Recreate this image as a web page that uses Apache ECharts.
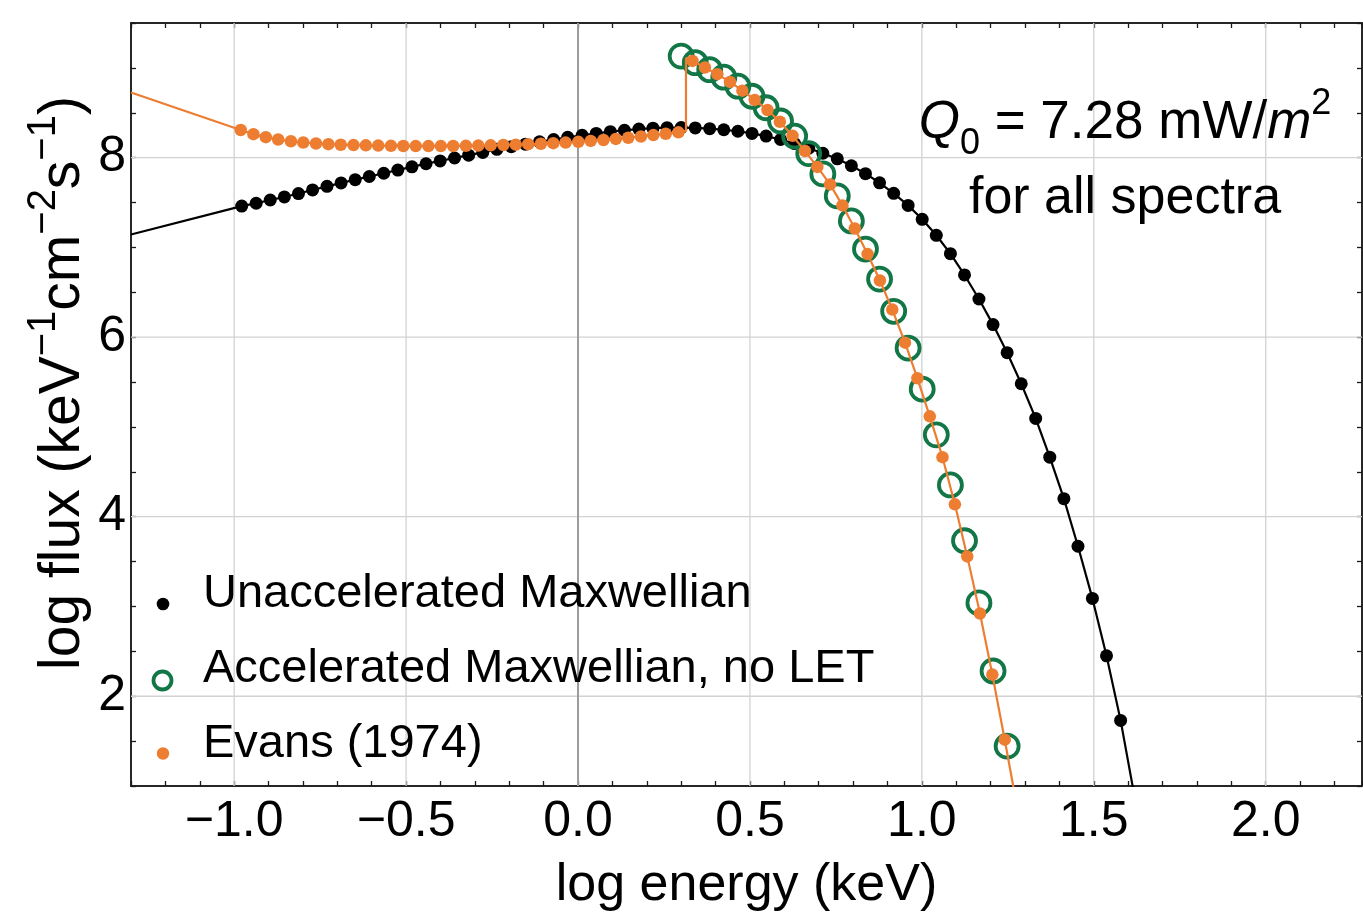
<!DOCTYPE html>
<html>
<head>
<meta charset="utf-8">
<script src="https://cdn.jsdelivr.net/npm/echarts@6/dist/echarts.min.js"></script>
<style>
html,body{margin:0;padding:0;background:#ffffff;}
#chart{width:1363px;height:919px;}
</style>
</head>
<body>
<div id="chart"></div>
<script>
// ---------------- data ----------------
// Unaccelerated Maxwellian (black dots)
const blackX = [-0.978,-0.936,-0.895,-0.854,-0.813,-0.772,-0.730,-0.689,-0.648,-0.607,
  -0.565,-0.524,-0.483,-0.442,-0.401,-0.359,-0.318,-0.277,-0.236,-0.194,
  -0.153,-0.112,-0.071,-0.030,0.012,0.053,0.094,0.135,0.177,0.218,
  0.259,0.300,0.341,0.383,0.424,0.465,0.506,0.547,0.589,0.630,
  0.671,0.712,0.754,0.795,0.836,0.877,0.918,0.960,1.001,1.042,
  1.083,1.124,1.166,1.207,1.248,1.289,1.331,1.372,1.413,1.454,
  1.496,1.537,1.578];
const blackY = [7.460,7.492,7.528,7.562,7.600,7.640,7.680,7.718,7.755,7.790,
  7.826,7.862,7.898,7.932,7.964,7.996,8.028,8.058,8.093,8.122,
  8.150,8.177,8.202,8.226,8.249,8.270,8.289,8.305,8.318,8.328,
  8.334,8.335,8.331,8.323,8.311,8.294,8.270,8.240,8.202,8.157,
  8.105,8.049,7.987,7.910,7.822,7.720,7.603,7.468,7.313,7.135,
  6.930,6.693,6.425,6.140,5.827,5.481,5.095,4.663,4.201,3.671,
  3.090,2.450,1.731];
const blackLineStart = [-1.3, 7.144];
const blackLineEnd = [1.62, 0.85];

// Accelerated Maxwellian, no LET (green open circles)
const greenX = [0.300,0.341,0.383,0.424,0.465,0.506,0.547,0.589,0.630,0.671,
  0.712,0.754,0.795,0.836,0.877,0.918,0.960,1.001,1.042,1.083,
  1.124,1.166,1.207,1.248];
const greenY = [9.131,9.058,8.980,8.896,8.796,8.684,8.556,8.408,8.240,8.045,
  7.819,7.574,7.295,6.982,6.647,6.288,5.879,5.422,4.912,4.354,
  3.732,3.040,2.281,1.444];

// Evans (1974) (orange dots) - below and above the jump
const orangePreX = [-0.981,-0.944,-0.908,-0.872,-0.835,-0.799,-0.762,-0.726,-0.690,-0.653,
  -0.617,-0.581,-0.544,-0.508,-0.472,-0.435,-0.399,-0.363,-0.326,-0.290,
  -0.254,-0.217,-0.181,-0.145,-0.108,-0.072,-0.036,0.001,0.037,0.074,
  0.110,0.146,0.183,0.219,0.255,0.292];
const orangePreY = [8.308,8.262,8.228,8.202,8.183,8.169,8.158,8.150,8.144,8.140,
  8.137,8.134,8.132,8.130,8.129,8.129,8.129,8.130,8.132,8.134,
  8.137,8.141,8.145,8.150,8.155,8.161,8.168,8.176,8.186,8.197,
  8.209,8.222,8.236,8.251,8.266,8.282];
const orangePostX = [0.333,0.369,0.405,0.442,0.478,0.514,0.551,0.587,0.624,0.660,
  0.696,0.733,0.769,0.805,0.842,0.878,0.914,0.951,0.987,1.023,
  1.060,1.096,1.132,1.169,1.205,1.241];
const orangePostY = [9.078,9.004,8.930,8.844,8.746,8.643,8.531,8.400,8.243,8.074,
  7.897,7.702,7.468,7.211,6.926,6.631,6.307,5.939,5.542,5.118,
  4.663,4.138,3.558,2.922,2.241,1.516];
const orangeLineStart = [-1.3, 8.725];
const orangeJump = [[0.314, 8.298], [0.314, 9.11]];
const orangeLineEnd = [1.28, 0.7];

// axes
const xRange = [-1.3, 2.28];
const yRange = [1, 9.5];
const xTickStep = 0.1;
const yTickStep = 0.5;
const xGridValues = [-1.0, -0.5, 0.5, 1.0, 1.5, 2.0];
const yGridValues = [2, 4, 6, 8];
const xZeroLine = 0;
const legendLabels = ['Unaccelerated Maxwellian', 'Accelerated Maxwellian, no LET', 'Evans (1974)'];

// ---------------- chart ----------------
const FONT = '"Liberation Sans", Arial, Helvetica, sans-serif';
const ORANGE = '#ed7d31';
const GREEN = '#127646';
const FRAME = '#1a1a1a';
const GRIDC = '#d2d2d2';
const zip = (xs, ys) => xs.map((x, i) => [x, ys[i]]);
const blackPts = zip(blackX, blackY);
const greenPts = zip(greenX, greenY);
const orangePrePts = zip(orangePreX, orangePreY);
const orangePostPts = zip(orangePostX, orangePostY);

// labels only on the major ticks (x: every 0.5, y: every 2)
const fmtX = v => (Math.abs(v * 2 - Math.round(v * 2)) < 1e-6) ? (Math.round(v * 10) / 10).toFixed(1).replace('-', '\u2212') : '';
const fmtY = v => (Math.abs(v / 2 - Math.round(v / 2)) < 1e-6) ? String(Math.round(v)) : '';

function baseAxis(range, step, pos) {
  return {
    type: 'value', min: range[0], max: range[1], interval: step, position: pos,
    axisLine: { show: true, onZero: false, lineStyle: { color: FRAME, width: 1.5 } },
    axisTick: { show: true, inside: true, length: 5, lineStyle: { color: FRAME, width: 1.3 } },
    axisLabel: { show: false },
    splitLine: { show: false }
  };
}
const xBottom = baseAxis(xRange, xTickStep, 'bottom');
xBottom.axisLabel = { show: true, formatter: fmtX, margin: 11, fontSize: 50, lineHeight: 50,
  color: '#000', fontFamily: FONT };
xBottom.name = 'log energy (keV)';
xBottom.nameLocation = 'middle';
xBottom.nameGap = 70;
xBottom.nameTextStyle = { fontSize: 52, lineHeight: 60, color: '#000', fontFamily: FONT };
const xTop = baseAxis(xRange, xTickStep, 'top');
const yLeft = baseAxis(yRange, yTickStep, 'left');
yLeft.axisLabel = { show: true, formatter: fmtY, margin: 5, fontSize: 50, color: '#000', fontFamily: FONT };
const yRight = baseAxis(yRange, yTickStep, 'right');

// grid lines as 2-point line series (drawn through the axes' scales)
const gridSeries = xGridValues.map(v => ({
  type: 'line', silent: true, symbol: 'none', z: 1,
  data: [[v, yRange[0]], [v, yRange[1]]],
  lineStyle: { color: GRIDC, width: 1.3 }
})).concat(yGridValues.map(v => ({
  type: 'line', silent: true, symbol: 'none', z: 1,
  data: [[xRange[0], v], [xRange[1], v]],
  lineStyle: { color: GRIDC, width: 1.3 }
}))).concat([{
  type: 'line', silent: true, symbol: 'none', z: 1,
  data: [[xZeroLine, yRange[0]], [xZeroLine, yRange[1]]],
  lineStyle: { color: '#9c9c9c', width: 2 }
}]);

const chart = echarts.init(document.getElementById('chart'));
const legendRows = [604, 680.5, 753.5];

chart.setOption({
  animation: false,
  grid: { left: 131, right: 1, top: 23, bottom: 133, containLabel: false, outerBoundsMode: 'none',
    show: true, borderColor: FRAME, borderWidth: 1.5, backgroundColor: 'rgba(255,255,255,0)' },
  xAxis: [xBottom, xTop],
  yAxis: [yLeft, yRight],
  series: gridSeries.concat([
    {
      type: 'line', name: 'Unaccelerated Maxwellian curve',
      data: [blackLineStart].concat(blackPts, [blackLineEnd]),
      symbol: 'none', showSymbol: false, silent: true,
      lineStyle: { color: '#000', width: 2.2 }, z: 2
    },
    {
      type: 'scatter', name: legendLabels[0], data: blackPts,
      symbol: 'circle', symbolSize: 13, silent: true,
      itemStyle: { color: '#000', opacity: 1 }, z: 3
    },
    {
      type: 'scatter', name: legendLabels[1], data: greenPts,
      symbol: 'circle', symbolSize: 23, silent: true,
      itemStyle: { color: 'rgba(255,255,255,0)', borderColor: GREEN, borderWidth: 3.8, opacity: 1 }, z: 4
    },
    {
      type: 'line', name: 'Evans curve',
      data: [orangeLineStart].concat(orangePrePts, orangeJump, orangePostPts, [orangeLineEnd]),
      symbol: 'none', showSymbol: false, silent: true,
      lineStyle: { color: ORANGE, width: 2.2 }, z: 5
    },
    {
      type: 'scatter', name: legendLabels[2], data: orangePrePts.concat(orangePostPts),
      symbol: 'circle', symbolSize: 12.5, silent: true,
      itemStyle: { color: ORANGE, opacity: 1 }, z: 6
    }
  ]),
  graphic: [
    { type: 'text', silent: true, x: 63, y: 383, rotation: Math.PI / 2, z: 10,
      style: {
        text: '{a|log flux (keV}{s|\u22121}{a|cm}{s|\u22122}{a|s}{s|\u22121}{a|)}',
        align: 'center', verticalAlign: 'middle', textAlign: 'center', textVerticalAlign: 'middle',
        fill: '#000', fontFamily: FONT, fontSize: 57,
        rich: {
          a: { fontSize: 57, lineHeight: 78, fontFamily: FONT, fill: '#000' },
          s: { fontSize: 40, lineHeight: 40, verticalAlign: 'top', fontFamily: FONT, fill: '#000' }
        }
      } },
    { type: 'circle', silent: true, shape: { cx: 163, cy: legendRows[0], r: 6.3 }, style: { fill: '#000' }, z: 10 },
    { type: 'circle', silent: true, shape: { cx: 162.5, cy: legendRows[1], r: 9 }, style: { fill: 'none', stroke: GREEN, lineWidth: 3.8 }, z: 10 },
    { type: 'circle', silent: true, shape: { cx: 163, cy: legendRows[2], r: 6.2 }, style: { fill: ORANGE }, z: 10 },
    { type: 'text', silent: true, x: 203, y: legendRows[0] - 9.6, z: 10,
      style: { text: legendLabels[0], fontSize: 47, fontFamily: FONT, fill: '#000', align: 'left', verticalAlign: 'middle', textAlign: 'left', textVerticalAlign: 'middle' } },
    { type: 'text', silent: true, x: 203, y: legendRows[1] - 11.1, z: 10,
      style: { text: legendLabels[1], fontSize: 47, fontFamily: FONT, fill: '#000', align: 'left', verticalAlign: 'middle', textAlign: 'left', textVerticalAlign: 'middle' } },
    { type: 'text', silent: true, x: 203, y: legendRows[2] - 9.8, z: 10,
      style: { text: legendLabels[2], fontSize: 47, fontFamily: FONT, fill: '#000', align: 'left', verticalAlign: 'middle', textAlign: 'left', textVerticalAlign: 'middle' } },
    { type: 'text', silent: true, x: 1125, y: 123.6, z: 10,
      style: {
        text: '{q|Q}{sb|0}{a| = 7.28 mW/}{m|m}{sp|2}',
        align: 'center', verticalAlign: 'middle', textAlign: 'center', textVerticalAlign: 'middle',
        fill: '#000', fontFamily: FONT, fontSize: 53,
        rich: {
          a: { fontSize: 53, lineHeight: 76, fontFamily: FONT, fill: '#000' },
          q: { fontSize: 53, lineHeight: 76, fontStyle: 'italic', fontFamily: FONT, fill: '#000' },
          m: { fontSize: 53, lineHeight: 76, fontStyle: 'italic', fontFamily: FONT, fill: '#000' },
          sp: { fontSize: 36, lineHeight: 36, verticalAlign: 'top', fontFamily: FONT, fill: '#000' },
          sb: { fontSize: 36, lineHeight: 47, verticalAlign: 'bottom', fontFamily: FONT, fill: '#000' }
        }
      } },
    { type: 'text', silent: true, x: 1125, y: 198.9, z: 10,
      style: { text: 'for all spectra', fontSize: 52, fontFamily: FONT, fill: '#000',
        align: 'center', verticalAlign: 'middle', textAlign: 'center', textVerticalAlign: 'middle' } }
  ]
});
</script>
</body>
</html>
